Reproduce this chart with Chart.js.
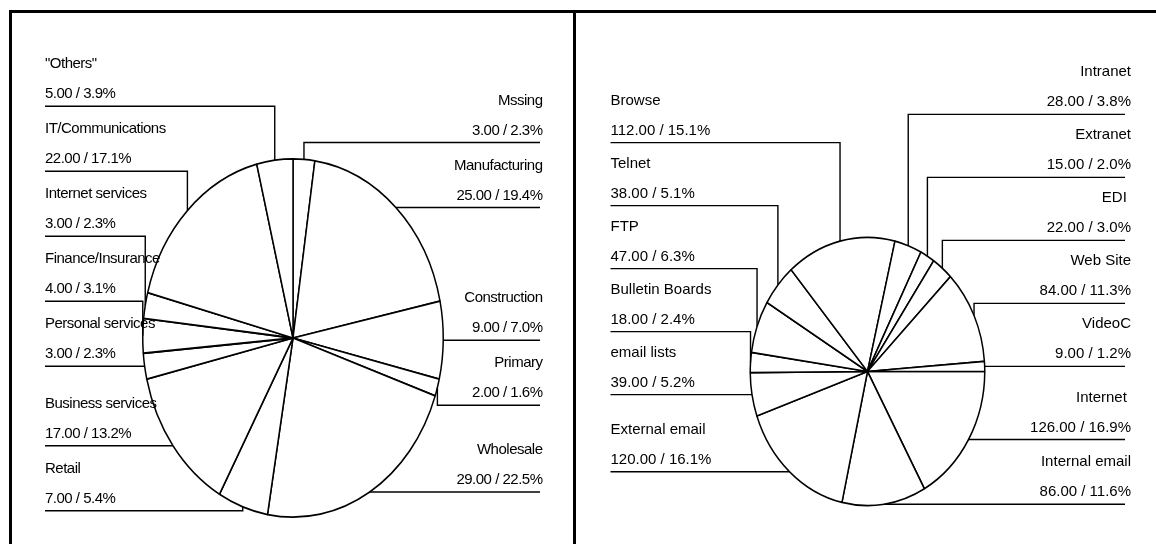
<!DOCTYPE html>
<html>
<head>
<meta charset="utf-8">
<script src="https://cdn.jsdelivr.net/npm/chart.js@4/dist/chart.umd.min.js"></script>
<style>
  html, body { margin: 0; padding: 0; background: #fff; }
  #page { position: relative; width: 1156px; height: 544px; overflow: hidden; }
  .panel { position: absolute; top: 0; height: 544px; }
  #frame { position: absolute; left: 9px; top: 10px; right: 0; bottom: 0;
           border-top: 3px solid #000; border-left: 3px solid #000; }
  #divider { position: absolute; left: 573px; top: 10px; width: 3px; bottom: 0; background: #000; }
</style>
</head>
<body>
<div id="page">
  <div class="panel" style="left:0;width:575px"><canvas id="industryPie"></canvas></div>
  <div class="panel" style="left:575px;width:581px"><canvas id="usagePie"></canvas></div>
  <div id="frame"></div>
  <div id="divider"></div>
</div>
<script>
// sectors, clockwise from 12 o'clock
var industryLabels = ['Mssing', 'Manufacturing', 'Construction', 'Primary', 'Wholesale', 'Retail',
    'Business services', 'Personal services', 'Finance/Insurance', 'Internet services',
    'IT/Communications', '"Others"'];
var industryValues = [3, 25, 9, 2, 29, 7, 17, 3, 4, 3, 22, 5];

// internet uses, clockwise from 3 o'clock
var usageLabels = ['Internet ', 'Internal email', 'External email', 'email lists', 'Bulletin Boards',
    'FTP', 'Telnet', 'Browse', 'Intranet', 'Extranet', 'EDI ', 'Web Site', 'VideoC'];
var usageValues = [126, 86, 120, 39, 18, 47, 38, 112, 28, 15, 22, 84, 9];

var FONT = '15px "Liberation Sans", Arial, sans-serif';

/** stretch the pie vertically into an ellipse */
var ellipsePlugin = {
    id: 'ellipse',
    beforeDatasetsDraw: function(chart, args, opts) {
        var a = chart.getDatasetMeta(0).data[0];
        var ctx = chart.ctx;
        ctx.save();
        ctx.translate(a.x, a.y);
        ctx.scale(1, opts.sy || 1);
        ctx.translate(-a.x, -a.y);
    },
    afterDatasetsDraw: function(chart) {
        chart.ctx.restore();
    }
};

/** stacked side labels with elbow leader lines */
function placeSide(items, cy, gap) {
    items.sort(function(a, b) { return a.ay - b.ay; });
    var p = items.findIndex(function(it) { return it.ay >= cy; });
    if (p < 0) p = items.length - 1;
    items[p].ly = items[p].ay;
    for (var i = p + 1; i < items.length; i++) items[i].ly = Math.max(items[i].ay, items[i - 1].ly + gap);
    for (var j = p - 1; j >= 0; j--) items[j].ly = Math.min(items[j].ay, items[j + 1].ly - gap);
}

var labelPlugin = {
    id: 'sideLabels',
    afterDraw: function(chart, args, o) {
        var ctx = chart.ctx;
        var meta = chart.getDatasetMeta(0);
        var data = chart.data.datasets[0].data;
        var total = data.reduce(function(s, v) { return s + v; }, 0);
        var sy = chart.options.plugins.ellipse.sy;
        var left = [], right = [], cy = 0;
        meta.data.forEach(function(arc, i) {
            var mid = (arc.startAngle + arc.endAngle) / 2;
            var it = {
                ax: arc.x + arc.outerRadius * Math.cos(mid),
                ay: arc.y + arc.outerRadius * sy * Math.sin(mid),
                name: chart.data.labels[i],
                value: data[i].toFixed(2) + ' / ' + (100 * data[i] / total).toFixed(1) + '%'
            };
            cy = arc.y;
            (Math.cos(mid) >= 0 ? right : left).push(it);
        });
        placeSide(left, cy, o.gap);
        placeSide(right, cy, o.gap);

        ctx.save();
        ctx.strokeStyle = '#000';
        ctx.lineWidth = 1.4;
        ctx.fillStyle = '#000';
        ctx.font = FONT;
        ctx.letterSpacing = o.spacing || '0px';
        ctx.textBaseline = 'alphabetic';

        left.forEach(function(it) {
            ctx.beginPath();
            ctx.moveTo(o.leftX, it.ly);
            ctx.lineTo(it.ax, it.ly);
            ctx.lineTo(it.ax, it.ay);
            ctx.stroke();
            ctx.textAlign = 'left';
            ctx.fillText(it.name, o.leftX, it.ly - 38);
            ctx.fillText(it.value, o.leftX, it.ly - 8);
        });
        right.forEach(function(it) {
            ctx.beginPath();
            ctx.moveTo(o.lineEnd, it.ly);
            ctx.lineTo(it.ax, it.ly);
            ctx.lineTo(it.ax, it.ay);
            ctx.stroke();
            ctx.textAlign = 'right';
            ctx.fillText(it.name, o.textRight, it.ly - 38);
            ctx.fillText(it.value, o.textRight, it.ly - 8);
        });
        ctx.restore();
    }
};

function makePie(canvasId, labels, values, cfg) {
    var ctx = document.getElementById(canvasId);
    return new Chart(ctx.getContext('2d'), {
        type: 'pie',
        data: {
            labels: labels,
            datasets: [{
                data: values,
                backgroundColor: '#fff',
                borderColor: '#000',
                borderWidth: 1.5
            }]
        },
        options: {
            responsive: true,
            maintainAspectRatio: false,
            animation: false,
            rotation: cfg.rotation,
            layout: { padding: cfg.padding },
            plugins: {
                legend: { display: false },
                tooltip: { enabled: false },
                ellipse: { sy: cfg.sy },
                sideLabels: cfg.labels
            }
        },
        plugins: [ellipsePlugin, labelPlugin]
    });
}

makePie('industryPie', industryLabels, industryValues, {
    rotation: 0,
    sy: 180 / 151,
    padding: { left: 142, right: 131, top: 187, bottom: 55 },
    labels: { leftX: 45, textRight: 542.5, lineEnd: 540, gap: 65, spacing: '-0.5px' }
});

makePie('usagePie', usageLabels, usageValues, {
    rotation: 90,
    sy: 135 / 118,
    padding: { left: 174.5, right: 170.5, top: 253.5, bottom: 54.5 },
    labels: { leftX: 35.5, textRight: 556, lineEnd: 550, gap: 63 }
});
</script>
</body>
</html>
